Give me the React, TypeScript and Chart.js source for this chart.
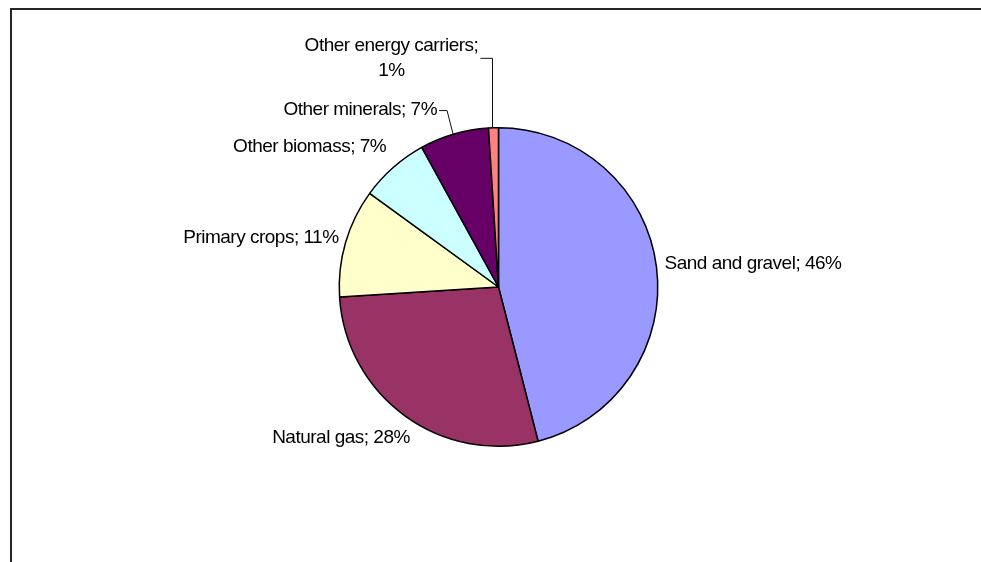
import React, { useEffect, useRef } from "react";
import { Chart, registerables } from "chart.js";

Chart.register(...registerables);

// Share of material extraction by category (percent)
const categories = [
  "Sand and gravel",
  "Natural gas",
  "Primary crops",
  "Other biomass",
  "Other minerals",
  "Other energy carriers",
];
const shares = [46, 28, 11, 7, 7, 1];
const sliceColors = ["#9999FF", "#993366", "#FFFFCC", "#CCFFFF", "#660066", "#FF8080"];

// Label placement relative to the outer edge point at each slice's mid-angle
type LabelPlacement = {
  dx: number;
  dy: number;
  align: CanvasTextAlign;
  wrap?: boolean;
  leader?: "elbow" | "drop";
};
const labelPlacements: LabelPlacement[] = [
  { dx: 8, dy: -3, align: "left" },
  { dx: 5, dy: 22, align: "right" },
  { dx: -7, dy: -5, align: "right" },
  { dx: -7, dy: -21, align: "right" },
  { dx: -17, dy: -24, align: "right", leader: "elbow" },
  { dx: -102, dy: -70, align: "center", wrap: true, leader: "drop" },
];

const FONT = '19px "Liberation Sans", Arial, sans-serif';
const LINE_HEIGHT = 25;

const pieLabels = {
  id: "pieLabels",
  afterDraw(chart: Chart) {
    const ctx = chart.ctx as CanvasRenderingContext2D & { letterSpacing?: string };
    const meta = chart.getDatasetMeta(0);
    ctx.save();
    ctx.font = FONT;
    ctx.letterSpacing = "-0.5px";
    ctx.fillStyle = "#000";
    ctx.strokeStyle = "#111";
    ctx.lineWidth = 1;
    ctx.textBaseline = "middle";
    meta.data.forEach((el: any, i: number) => {
      const { x, y, startAngle, endAngle, outerRadius } = el.getProps(
        ["x", "y", "startAngle", "endAngle", "outerRadius"],
        true
      );
      const mid = (startAngle + endAngle) / 2;
      const ox = x + Math.cos(mid) * outerRadius;
      const oy = y + Math.sin(mid) * outerRadius;
      const p = labelPlacements[i];
      const lx = ox + p.dx;
      const ly = oy + p.dy;
      const lines = p.wrap
        ? [`${categories[i]};`, `${shares[i]}%`]
        : [`${categories[i]}; ${shares[i]}%`];
      ctx.textAlign = p.align;
      const top = ly - ((lines.length - 1) * LINE_HEIGHT) / 2;
      lines.forEach((t, k) => ctx.fillText(t, lx, top + k * LINE_HEIGHT));

      if (p.leader) {
        const widest = Math.max(...lines.map((t) => ctx.measureText(t).width));
        let rightEdge = lx;
        if (p.align === "center") rightEdge = lx + widest / 2;
        if (p.align === "left") rightEdge = lx + widest;
        ctx.beginPath();
        ctx.moveTo(rightEdge + 2, ly + 0.5);
        if (p.leader === "elbow") {
          ctx.lineTo(ox - 7, ly + 0.5);
          ctx.lineTo(ox - 1, oy);
        } else {
          ctx.lineTo(Math.round(ox) - 0.5, ly + 0.5);
          ctx.lineTo(Math.round(ox) - 0.5, oy);
        }
        ctx.stroke();
      }
    });
    ctx.restore();
  },
};

export default function App() {
  const canvasRef = useRef<HTMLCanvasElement | null>(null);

  useEffect(() => {
    if (!canvasRef.current) return;
    const chart = new Chart(canvasRef.current, {
      type: "pie",
      data: {
        labels: categories,
        datasets: [
          {
            data: shares,
            backgroundColor: sliceColors,
            borderColor: "#000",
            borderWidth: 1.5,
          },
        ],
      },
      options: {
        animation: false,
        responsive: false,
        layout: { padding: { left: 300, right: 284, top: 127, bottom: 115 } },
        plugins: {
          legend: { display: false },
          tooltip: { enabled: false },
        },
      },
      plugins: [pieLabels],
    });
    return () => chart.destroy();
  }, []);

  return (
    <div style={{ position: "absolute", left: 0, top: 0, width: 981, height: 562, background: "#fff" }}>
      <div
        style={{
          position: "absolute",
          left: 10,
          top: 8,
          width: 990,
          height: 570,
          borderTop: "2px solid #262626",
          borderLeft: "2px solid #262626",
        }}
      />
      <canvas
        ref={canvasRef}
        width={981}
        height={562}
        style={{ position: "absolute", left: 0, top: 0, width: 981, height: 562 }}
      />
    </div>
  );
}
